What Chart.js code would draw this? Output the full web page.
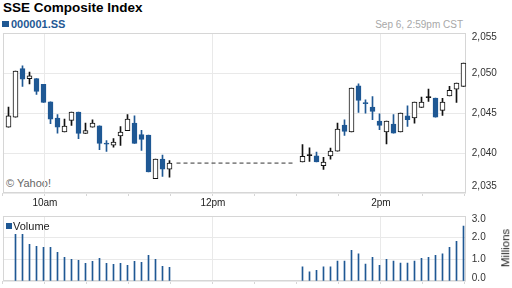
<!DOCTYPE html>
<html><head><meta charset="utf-8">
<script src="https://cdn.jsdelivr.net/npm/chart.js@4.4.1/dist/chart.umd.min.js"></script>
<style>
html,body{margin:0;padding:0;background:#fff;}
body{width:512px;height:288px;position:relative;overflow:hidden;font-family:"Liberation Sans",Arial,sans-serif;}
.t{position:absolute;white-space:nowrap;}
#title{left:3px;top:0.7px;font-size:13.5px;line-height:13.5px;font-weight:bold;color:#000;}
#sym{left:11px;top:18.7px;font-size:11px;line-height:11px;font-weight:bold;color:#1f5894;}
#symsq{left:2px;top:21px;width:7px;height:6px;background:#1f5894;}
#date{right:49px;top:19.5px;font-size:10px;line-height:10px;color:#a8a8a8;}
#copy{left:6px;top:177.5px;font-size:11px;line-height:11px;color:#666;}
#volsq{left:6px;top:223px;width:6px;height:6px;background:#1f5894;}
#vol{left:13px;top:220.7px;font-size:11px;line-height:11px;color:#222;}
#mil{left:506px;top:248px;font-size:11.5px;line-height:11.5px;color:#222;transform:translate(-50%,-50%) rotate(-90deg);}
canvas{position:absolute;left:0;}
#main{top:0;}
#volc{top:205px;}
</style></head><body>
<div class="t" id="title">SSE Composite Index</div>
<div class="t" id="symsq"></div>
<div class="t" id="sym">000001.SS</div>
<div class="t" id="date">Sep 6, 2:59pm CST</div>
<div class="t" id="copy">© Yahoo!</div>
<canvas id="main" width="512" height="210"></canvas>
<canvas id="volc" width="512" height="83"></canvas>
<div class="t" id="volsq"></div>
<div class="t" id="vol">Volume</div>
<div class="t" id="mil">Millions</div>
<script>
// ---- data ----
const times = ['09:34','09:39','09:44','09:49','09:54','09:59','10:04','10:09','10:14','10:19','10:24','10:29',
  '10:34','10:39','10:44','10:49','10:54','10:59','11:04','11:09','11:14','11:19','11:24','11:29',
  '13:04','13:09','13:14','13:19','13:24','13:29','13:34','13:39','13:44','13:49','13:54','13:59',
  '14:04','14:09','14:14','14:19','14:24','14:29','14:34','14:39','14:44','14:49','14:54','14:59'];
const open  = [2043.24,2044.49,2050.54,2049.29,2049.29,2048.58,2046.41,2044.37,2042.62,2044.08,2045.12,2042.45,
  2043.24,2043.41,2041.15,2040.99,2042.12,2042.79,2043.74,2042.29,2042.24,2036.79,2039.24,2037.99,
  2038.87,2039.68,2039.66,2038.41,2039.62,2040.24,2043.49,2042.62,2048.41,2046.22,2045.74,2043.99,
  2042.62,2043.62,2042.62,2044.66,2044.37,2045.70,2046.93,2046.87,2045.33,2047.12,2047.99,2048.33];
const high  = [2045.74,2050.24,2050.91,2050.12,2049.29,2048.58,2046.41,2044.79,2044.24,2045.12,2045.12,2043.74,
  2044.16,2043.41,2041.54,2041.79,2043.29,2044.79,2044.66,2042.83,2042.24,2039.24,2039.74,2039.04,
  2041.04,2040.66,2040.12,2039.45,2040.62,2043.74,2044.16,2048.12,2048.66,2046.66,2047.04,2044.91,
  2043.99,2044.79,2044.99,2045.91,2046.37,2046.99,2047.99,2046.87,2046.83,2048.33,2048.74,2051.24];
const low   = [2043.24,2044.49,2048.33,2048.62,2047.33,2046.33,2043.66,2042.49,2042.62,2043.45,2041.79,2042.45,
  2043.24,2040.41,2040.20,2040.74,2040.95,2042.79,2041.20,2040.33,2037.62,2036.79,2037.08,2036.99,
  2038.87,2038.95,2038.87,2037.95,2039.24,2040.24,2042.20,2042.62,2045.08,2044.99,2044.16,2042.91,
  2041.12,2042.49,2042.62,2043.33,2043.74,2045.70,2046.45,2044.49,2044.70,2047.12,2046.33,2048.33];
const close = [2044.66,2050.24,2049.24,2049.66,2047.70,2046.33,2044.24,2043.24,2043.37,2045.12,2042.45,2042.79,
  2043.74,2041.20,2041.10,2041.37,2042.62,2044.24,2041.20,2041.70,2037.62,2039.24,2037.99,2038.74,
  2039.58,2039.72,2038.87,2038.87,2040.24,2042.99,2042.70,2048.12,2046.58,2046.18,2045.20,2043.45,
  2043.99,2042.49,2044.99,2044.16,2046.37,2046.37,2046.97,2044.49,2046.37,2047.83,2048.74,2051.24];
const volume = [null,2.15,2.15,1.69,1.60,1.55,1.55,1.32,1.09,1.00,0.95,0.82,
  0.91,1.05,0.82,0.77,0.82,0.72,0.91,0.86,1.18,1.00,0.68,0.63,
  0.65,0.42,0.49,0.65,0.65,0.92,0.92,1.42,1.25,0.78,1.09,0.72,
  1.00,0.92,0.83,0.83,0.92,1.05,1.09,1.18,1.25,1.55,1.83,2.54];
const lunchTimes = ['11:34','12:59'];
const tickTimes = ['09:30','10:00','10:30','11:00','11:30','12:00','12:30','13:00','13:30','14:00','14:30','15:00'];
const timeLabels = {'10:00':'10am','12:00':'12pm','14:00':'2pm'};
const priceTicks = [2035,2040,2045,2050,2055];
const volumeTicks = [0,1,2,3];

// ---- helpers ----
const BLUE = '#1f5894';
const GRID = '#e9e9e9';
const FRAME = '#d6d6d6';
const toMin = s => { const [h,m] = s.split(':').map(Number); return (h*60+m) - (9*60+30); };
const labelledMins = Object.keys(timeLabels).map(toMin);
const labelByMin = {}; Object.keys(timeLabels).forEach(k => labelByMin[toMin(k)] = timeLabels[k]);
const xs = times.map(toMin);
const isDown = i => close[i] < open[i];
const isDoji = i => Math.abs(close[i]-open[i]) < 0.15;

function xScale(showLabels, height) {
  return {
    type:'linear', min:0, max:331, offset:false,
    afterBuildTicks(s){ s.ticks = tickTimes.map(t => ({value: toMin(t)})); },
    ticks:{ display:showLabels, autoSkip:false, maxRotation:0, minRotation:0, padding:1, color:'#222',
      font:{family:'"Liberation Sans", Arial, sans-serif', size:10},
      callback:(v) => labelByMin[v] || '' },
    grid:{ offset:false, color:(c)=> (c.tick && labelledMins.includes(c.tick.value)) ? GRID : 'rgba(0,0,0,0)',
      tickColor:FRAME, tickLength:3, drawTicks:true, lineWidth:1 },
    border:{display:false},
    afterFit(s){ s.height = height; }
  };
}
function yScale(min, max, step) {
  return {
    position:'right', min, max,
    afterBuildTicks(s){ const arr=[]; for (let v=min; v<=max+1e-9; v+=step) arr.push({value:v}); s.ticks = arr; },
    ticks:{display:false},
    grid:{color:GRID, drawTicks:false},
    border:{display:false},
    afterFit(s){ s.width = 45.7; }
  };
}
const framePlugin = {
  id:'frame',
  beforeDatasetsDraw(chart){
    const {ctx, chartArea:a} = chart;
    ctx.save();
    ctx.strokeStyle = FRAME; ctx.lineWidth = 1;
    const l=Math.round(a.left)+0.5, r=Math.round(a.right)-0.5, t=Math.round(a.top)+0.5, b=Math.round(a.bottom)-0.5;
    ctx.strokeRect(l,t,r-l,b-t);
    ctx.restore();
  },
  afterDraw(chart, args, o){
    const {ctx, chartArea:a} = chart;
    const ys = chart.scales.y;
    ctx.save();
    ctx.fillStyle = '#333';
    ctx.font = '10px "Liberation Sans", Arial, sans-serif';
    ctx.textBaseline = 'middle'; ctx.textAlign = 'left';
    for (const v of o.ticks) {
      let p = ys.getPixelForValue(v);
      p = Math.min(Math.max(p, a.top + o.padT), a.bottom - o.padB);
      ctx.fillText(o.fmt(v), a.right + 5.5, p);
    }
    ctx.restore();
  }
};

// ---- main chart ----
new Chart(document.getElementById('main'), {
  type:'bar',
  data:{ datasets:[
    { type:'bar', order:0, grouped:false, barThickness:5, borderWidth:1, borderSkipped:false, minBarLength:1,
      data: xs.map((x,i)=>({x, y:[open[i], close[i]]})),
      backgroundColor: xs.map((x,i)=> isDown(i) ? BLUE : (isDoji(i) ? '#111' : '#fff')),
      borderColor: xs.map((x,i)=> isDown(i) ? BLUE : '#111') },
    { type:'bar', order:1, grouped:false, barThickness:1, borderWidth:0,
      data: xs.map((x,i)=>({x, y:[low[i], high[i]]})),
      backgroundColor: xs.map((x,i)=> isDown(i) ? BLUE : '#111') },
    { type:'line', order:2, data: lunchTimes.map(t=>({x:toMin(t), y:close[23]})),
      borderColor:'#333', borderWidth:1, borderDash:[4,3], pointRadius:0, fill:false }
  ]},
  options:{
    responsive:false, animation:false, devicePixelRatio:1,
    layout:{padding:{left:2.9, top:33, right:0, bottom:0}},
    plugins:{legend:{display:false}, tooltip:{enabled:false},
      frame:{ticks:priceTicks, padT:4.4, padB:6.3, fmt:v=>v.toLocaleString('en-US')}},
    scales:{ x:xScale(true, 17), y:yScale(2035, 2055, 5) }
  },
  plugins:[framePlugin]
});

// ---- volume chart ----
new Chart(document.getElementById('volc'), {
  type:'bar',
  data:{ datasets:[
    { grouped:false, barThickness:1, borderWidth:0, backgroundColor:BLUE,
      data: xs.map((x,i)=>({x, y:volume[i]})) }
  ]},
  options:{
    responsive:false, animation:false, devicePixelRatio:1,
    layout:{padding:{left:2.9, top:11, right:0, bottom:0}},
    plugins:{legend:{display:false}, tooltip:{enabled:false},
      frame:{ticks:volumeTicks, padT:3.3, padB:2.7, fmt:v=>v.toFixed(1)}},
    scales:{ x:xScale(false, 7), y:yScale(0, 3, 1) }
  },
  plugins:[framePlugin]
});
</script>
</body></html>
